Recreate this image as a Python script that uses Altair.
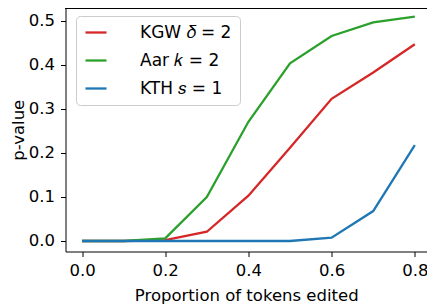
import altair as alt
import pandas as pd

x_vals = [0.0, 0.1, 0.2, 0.3, 0.4, 0.5, 0.6, 0.7, 0.8]
kgw = [0.0, 0.0, 0.002, 0.021, 0.103, 0.212, 0.323, 0.383, 0.447]
aar = [0.0, 0.0, 0.006, 0.100, 0.271, 0.404, 0.466, 0.497, 0.510]
kth = [0.0, 0.0, 0.0, 0.0, 0.0, 0.0, 0.0075, 0.068, 0.218]
series_names = ["KGW \U0001D6FF = 2", "Aar \U0001D458 = 2", "KTH \U0001D460 = 1"]
series_colors = ["#d62728", "#2ca02c", "#1f77b4"]

rows = []
for name, vals in zip(series_names, [kgw, aar, kth]):
    for xv, yv in zip(x_vals, vals):
        rows.append({"x": xv, "y": yv, "series": name})
df = pd.DataFrame(rows)

FONT = "DejaVu Sans"
W, H = 361.5, 243.5

chart = alt.Chart(df).mark_line(strokeWidth=2.3, clip=True).encode(
    x=alt.X("x:Q", scale=alt.Scale(domain=[-0.0397, 0.8293], nice=False, zero=False),
            axis=alt.Axis(values=[0.0, 0.2, 0.4, 0.6, 0.8], format=".1f", title="Proportion of tokens edited",
                          grid=False, tickSize=5, labelPadding=6, titlePadding=8)),
    y=alt.Y("y:Q", scale=alt.Scale(domain=[-0.0239, 0.5295], nice=False, zero=False),
            axis=alt.Axis(values=[0.0, 0.1, 0.2, 0.3, 0.4, 0.5], format=".1f", title="p-value",
                          grid=False, tickSize=5, labelPadding=6, titlePadding=2)),
    color=alt.Color("series:N", sort=series_names,
                    scale=alt.Scale(domain=series_names, range=series_colors),
                    legend=alt.Legend(title=None, orient="none", legendX=10.5, legendY=8,
                                      symbolType="M-2,0H4", symbolSize=49, symbolStrokeWidth=2.3,
                                      labelFontSize=17, labelFont=FONT, labelColor="black",
                                      labelOffset=39, rowPadding=10, padding=8,
                                      strokeColor="#cccccc", fillColor="white", cornerRadius=4,
                                      labelLimit=400)),
    order=alt.Order("series_order:Q"),
).transform_calculate(
    series_order="indexof(['" + "','".join(series_names) + "'], datum.series)"
)

top_axis = alt.Chart(df).mark_rule(color="black", strokeWidth=1).encode(
    x=alt.value(0), x2=alt.value(W), y=alt.value(0.5)
)

final = alt.layer(chart, top_axis).properties(
    width=W, height=H,
    autosize=alt.AutoSizeParams(type="none"),
    padding={"left": 57.5, "top": 0, "right": 0, "bottom": 54},
).configure_view(stroke=None).configure_axis(
    labelFont=FONT, titleFont=FONT, labelFontSize=16.5, titleFontSize=16.5,
    labelColor="black", titleColor="black", domainColor="black", tickColor="black",
    titleFontWeight="normal", domainWidth=1, tickWidth=1
)

final.save("out.html", embed_options={"renderer": "svg", "actions": False})
